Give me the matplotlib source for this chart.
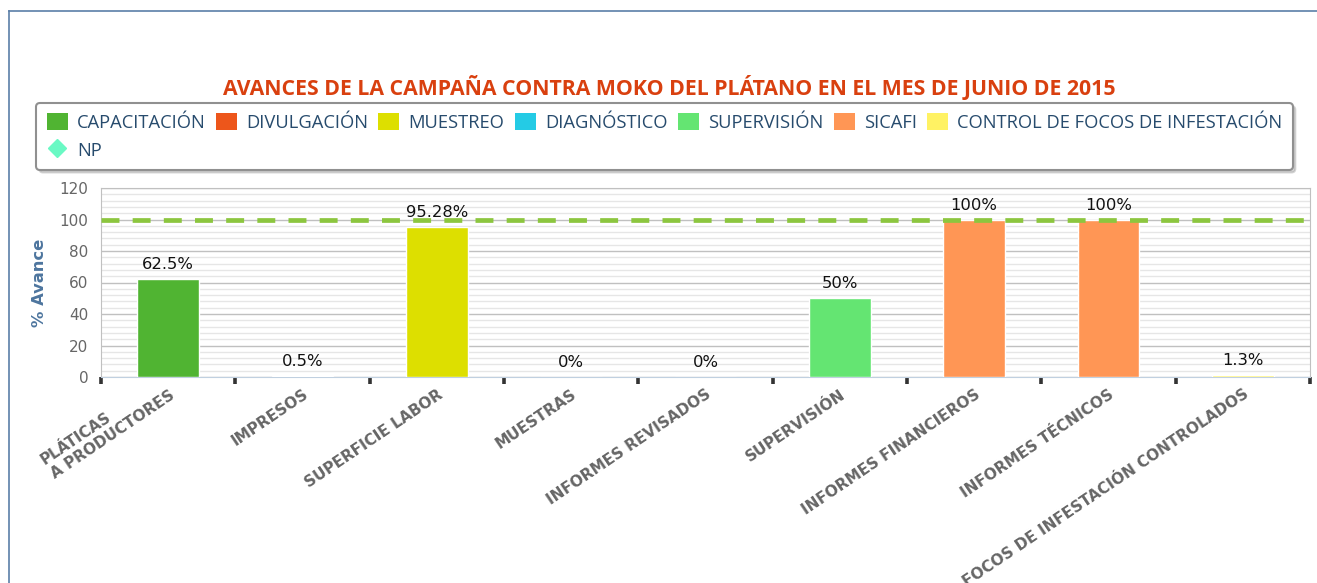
import matplotlib
matplotlib.use('Agg')
import numpy as np
from matplotlib import pyplot as plt
from matplotlib.patches import Patch
from matplotlib.lines import Line2D
from matplotlib.ticker import MultipleLocator

# Data
categories = ['PLÁTICAS\nA PRODUCTORES', 'IMPRESOS', 'SUPERFICIE LABOR', 'MUESTRAS',
              'INFORMES REVISADOS', 'SUPERVISIÓN', 'INFORMES FINANCIEROS',
              'INFORMES TÉCNICOS', 'FOCOS DE INFESTACIÓN CONTROLADOS']
avance = [62.5, 0.5, 95.28, 0, 0, 50, 100, 100, 1.3]
bar_series = ['CAPACITACIÓN', 'DIVULGACIÓN', 'MUESTREO', 'DIAGNÓSTICO', 'DIAGNÓSTICO',
              'SUPERVISIÓN', 'SICAFI', 'SICAFI', 'CONTROL DE FOCOS DE INFESTACIÓN']

series_names = ['CAPACITACIÓN', 'DIVULGACIÓN', 'MUESTREO', 'DIAGNÓSTICO',
                'SUPERVISIÓN', 'SICAFI', 'CONTROL DE FOCOS DE INFESTACIÓN']
series_colors = ['#50B432', '#ED561B', '#DDDF00', '#24CBE5',
                 '#64E572', '#FF9655', '#FFF263']
np_name = 'NP'
np_value = 100
np_color = '#6AF9C4'

TITLE = 'AVANCES DE LA CAMPAÑA CONTRA MOKO DEL PLÁTANO EN EL MES DE JUNIO DE 2015'


def main():
    W, H = 1317, 583
    fig = plt.figure(figsize=(W / 100, H / 100), dpi=100)
    ax = fig.add_axes([101 / W, 1 - 377 / H, (1310 - 101) / W, (377 - 188) / H])

    color_of = dict(zip(series_names, series_colors))
    x = np.arange(len(categories))
    bars = ax.bar(x, avance, width=0.46, color=[color_of[s] for s in bar_series],
                  edgecolor='white', linewidth=1, zorder=3)

    for rect, v in zip(bars, avance):
        ax.annotate(f'{v:g}%', (rect.get_x() + rect.get_width() / 2, v),
                    xytext=(0, 5), textcoords='offset points', ha='center', va='bottom',
                    fontsize=11.8, color='#111111', zorder=5)

    # NP line
    ax.axhline(np_value, color='#8CC63F', lw=3.4, dashes=(3.8, 2.8), zorder=4, clip_on=False)

    ax.set_xlim(-0.5, len(categories) - 0.5)
    ax.set_ylim(0, 120)
    ax.yaxis.set_major_locator(MultipleLocator(20))
    ax.yaxis.set_minor_locator(MultipleLocator(4))
    ax.grid(which='major', axis='y', color='#C0C0C0', lw=1, zorder=0)
    ax.grid(which='minor', axis='y', color='#E6E6E6', lw=1, zorder=0)
    ax.set_axisbelow(True)

    ax.tick_params(axis='y', which='both', length=0, pad=9, labelsize=11, labelcolor='#666666')
    ax.set_xticks(x)
    ax.set_xticklabels(categories, rotation=34, ha='right', rotation_mode='anchor',
                       multialignment='left', fontsize=11, fontweight='bold', color='#666666')
    # the two-line label sits a bit higher
    ax.get_xticklabels()[0].set_va('center')
    ax.set_xticks(np.arange(-0.5, len(categories)), minor=True)
    ax.tick_params(axis='x', which='major', length=0, pad=7)
    ax.tick_params(axis='x', which='minor', length=5, width=2.6, color='#333333', direction='out')

    for side in ['top', 'right', 'left']:
        ax.spines[side].set_color('#C0C0C0')
    ax.spines['bottom'].set_color('#C0D0E0')

    ax.set_ylabel('% Avance', fontsize=11.8, fontweight='bold', color='#4D759E', labelpad=9)

    fig.text(669 / W, 1 - 87 / H, TITLE, ha='center', va='center', fontsize=15.3,
             fontweight='bold', family='Open Sans', color='#D9400F')

    handles = [Patch(facecolor=c, edgecolor='none') for c in series_colors]
    np_handle = Line2D([], [], marker='D', ls='none', markersize=9, color=np_color)
    # column-major fill: put NP under the first column
    hl = [handles[0], np_handle] + handles[1:]
    names = [series_names[0], np_name] + series_names[1:]
    leg = fig.legend(hl, names, loc='center', ncol=7,
                     bbox_to_anchor=(664.5 / W, 1 - 136.5 / H), bbox_transform=fig.transFigure,
                     prop={'family': 'Open Sans', 'size': 13.2}, labelcolor='#274B6D',
                     handlelength=1.15, handleheight=1.05, handletextpad=0.5,
                     columnspacing=0.56, labelspacing=0.47, borderpad=0.55,
                     fancybox=True, shadow={'color': '#999999', 'alpha': 0.4},
                     frameon=True, edgecolor='#909090', framealpha=1)
    leg.get_frame().set_linewidth(1.5)

    # chart container border
    fig.add_artist(Line2D([9 / W, 9 / W], [0, 1 - 11 / H], color='#5B7FA8', lw=1.2))
    fig.add_artist(Line2D([9 / W, 1], [1 - 11 / H, 1 - 11 / H], color='#5B7FA8', lw=1.2))

    fig.savefig('out.png', dpi=100)


if __name__ == '__main__':
    main()
